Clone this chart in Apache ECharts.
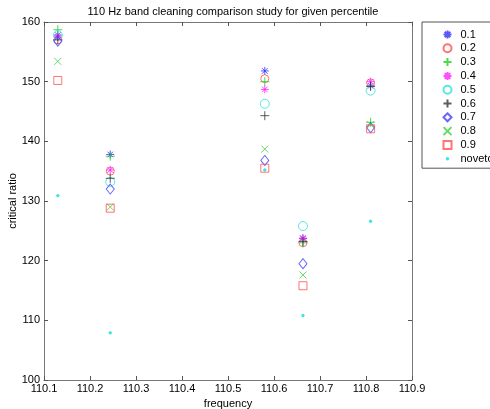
<!DOCTYPE html>
<html>
<head>
<meta http-equiv="Content-Type" content="text/html; charset=UTF-8">
<title>110 Hz band cleaning</title>
<script src="https://cdn.jsdelivr.net/npm/echarts@6/dist/echarts.min.js"></script>
<style>
	body { margin: 0; background: #fff; }
	#chart { width: 490px; height: 409px; }
</style>
</head>
<body>
	<div id="chart"></div>
	<script type="text/javascript">
		// frequencies of the five lines
		var freqs = [ 110.13, 110.244, 110.58, 110.663, 110.81 ];
		// critical ratio per percentile
		var p01 = [ 157.8, 137.8, 151.8, 123.7, 149.3 ];
		var p02 = [ 157.0, 135.0, 150.5, 123.0, 149.8 ];
		var p03 = [ 158.7, 137.5, 150.0, 123.0, 143.2 ];
		var p04 = [ 157.5, 135.2, 148.7, 123.8, 150.0 ];
		var p05 = [ 157.8, 133.2, 146.3, 125.8, 148.5 ];
		var p06 = [ 157.0, 133.8, 144.3, 123.2, 149.2 ];
		var p07 = [ 156.8, 132.0, 136.8, 119.5, 142.3 ];
		var p08 = [ 153.4, 129.0, 138.7, 117.6, 142.8 ];
		var p09 = [ 150.2, 128.8, 135.5, 115.8, 142.1 ];
		var noveto = [ 130.9, 107.9, 135.2, 110.8, 126.6 ];
		var xTicks = [ 110.1, 110.2, 110.3, 110.4, 110.5, 110.6, 110.7, 110.8, 110.9 ];
		var yTicks = [ 100, 110, 120, 130, 140, 150, 160 ];

		var star = 'path://M5,0L5,10M0,5L10,5M1.5,1.5L8.5,8.5M8.5,1.5L1.5,8.5';
		var plus = 'path://M5,0L5,10M0,5L10,5';
		var cross = 'path://M0,0L10,10M10,0L0,10';
		// small dot inside a 10x10 box, for the legend
		var dotIcon = 'path://M0,0L0,0M10,10L10,10M4,5A1,1,0,1,0,6,5A1,1,0,1,0,4,5Z';

		function pts(vals) {
			var out = [];
			for (var i = 0; i < freqs.length; i++) {
				out.push([ freqs[i], vals[i] ]);
			}
			return out;
		}
		function ser(name, vals, symbol, size, color, filled) {
			return {
				name : name,
				type : 'scatter',
				symbol : symbol,
				symbolSize : size,
				itemStyle : {
					color : filled ? color : 'none',
					borderColor : color,
					borderWidth : 1
				},
				emphasis : { disabled : true },
				data : pts(vals)
			};
		}

		var font = 'Liberation Sans, Arial, sans-serif';
		var chart = echarts.init(document.getElementById('chart'));
		chart.setOption({
			animation : false,
			textStyle : { fontFamily : font },
			title : {
				text : '110 Hz band cleaning comparison study for given percentile',
				left : 228,
				textAlign : 'center',
				top : 1,
				textStyle : { fontSize : 11, fontWeight : 'normal', color : '#000', fontFamily : font }
			},
			legend : {
				orient : 'vertical',
				left : 422,
				top : 22,
				padding : [ 6, 20, 3, 19 ],
				itemWidth : 8,
				itemHeight : 8,
				itemGap : 0.8,
				symbolKeepAspect : true,
				borderColor : '#555',
				borderWidth : 1,
				borderRadius : 0,
				textStyle : { fontSize : 11, lineHeight : 13, color : '#000', fontFamily : font, padding : [ 0, 0, 0, 4 ] },
				data : [ '0.1', '0.2', '0.3', '0.4', '0.5', '0.6', '0.7', '0.8', '0.9', { name : 'noveto', icon : dotIcon } ]
			},
			grid : {
				left : 44,
				right : 78,
				top : 22,
				bottom : 29,
				outerBoundsMode : 'none'
			},
			xAxis : [ {
				type : 'value',
				min : xTicks[0],
				max : xTicks[xTicks.length - 1],
				interval : 0.1,
				name : 'frequency',
				nameLocation : 'middle',
				nameGap : 18,
				nameMoveOverlap : false,
				nameTextStyle : { fontSize : 11, color : '#000' },
				axisLine : { lineStyle : { color : '#777' } },
				axisTick : { inside : true, length : 4, lineStyle : { color : '#555' } },
				axisLabel : { fontSize : 11, color : '#000', margin : 3, formatter : function(v) { return v.toFixed(1); } },
				splitLine : { show : false }
			}, {
				type : 'value',
				position : 'top',
				min : xTicks[0],
				max : xTicks[xTicks.length - 1],
				interval : 0.1,
				axisLine : { lineStyle : { color : '#777' } },
				axisTick : { inside : true, length : 4, lineStyle : { color : '#555' } },
				axisLabel : { show : false },
				splitLine : { show : false }
			} ],
			yAxis : [ {
				type : 'value',
				min : yTicks[0],
				max : yTicks[yTicks.length - 1],
				interval : 10,
				name : 'critical ratio',
				nameLocation : 'middle',
				nameGap : 26,
				nameMoveOverlap : false,
				nameTextStyle : { fontSize : 11, color : '#000' },
				axisLine : { show : true, lineStyle : { color : '#777' } },
				axisTick : { show : true, inside : true, length : 4, lineStyle : { color : '#555' } },
				axisLabel : { fontSize : 11, color : '#000', margin : 4 },
				splitLine : { show : false }
			}, {
				type : 'value',
				position : 'right',
				min : yTicks[0],
				max : yTicks[yTicks.length - 1],
				interval : 10,
				axisLine : { show : true, lineStyle : { color : '#777' } },
				axisTick : { show : true, inside : true, length : 4, lineStyle : { color : '#555' } },
				axisLabel : { show : false },
				splitLine : { show : false }
			} ],
			series : [
				ser('0.1', p01, star, 8, '#3030ff', false),
				ser('0.2', p02, 'circle', 8, '#ff5050', false),
				ser('0.3', p03, plus, 9, '#20d020', false),
				ser('0.4', p04, star, 8, '#ff20ff', false),
				ser('0.5', p05, 'circle', 9, '#30e0e0', false),
				ser('0.6', p06, plus, 9, '#333333', false),
				ser('0.7', p07, 'diamond', [ 8, 10 ], '#4040ff', false),
				ser('0.8', p08, cross, 7, '#40d040', false),
				ser('0.9', p09, 'rect', 8, '#ff5050', false),
				ser('noveto', noveto, 'circle', 2.5, '#20e0e0', true)
			]
		});
	</script>
</body>
</html>
